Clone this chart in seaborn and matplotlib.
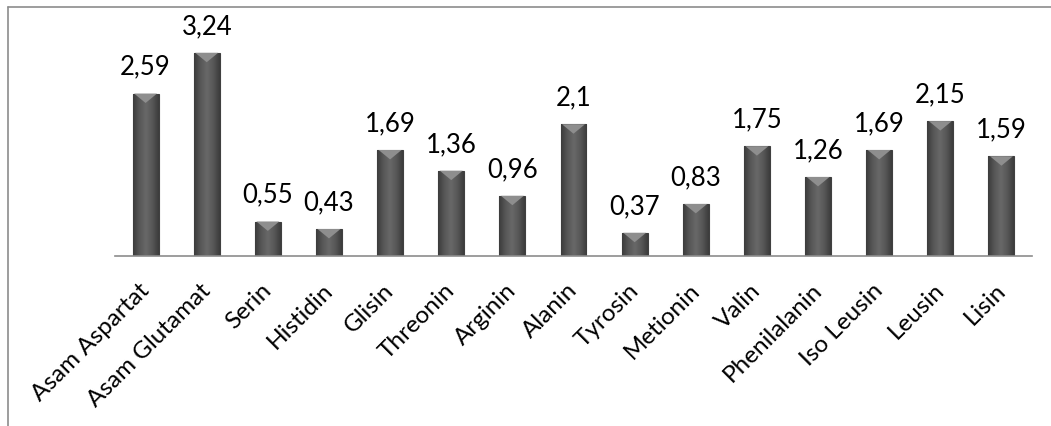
import numpy as np
import pandas as pd
import seaborn as sns
import matplotlib.pyplot as plt
import matplotlib.transforms as mtransforms
from matplotlib.patches import Polygon
from matplotlib.lines import Line2D

# data
asam_amino = ['Asam Aspartat', 'Asam Glutamat', 'Serin', 'Histidin', 'Glisin',
              'Threonin', 'Arginin', 'Alanin', 'Tyrosin', 'Metionin', 'Valin',
              'Phenilalanin', 'Iso Leusin', 'Leusin', 'Lisin']
kadar = [2.59, 3.24, 0.55, 0.43, 1.69, 1.36, 0.96, 2.1, 0.37, 0.83, 1.75,
         1.26, 1.69, 2.15, 1.59]

df = pd.DataFrame({'asam': asam_amino, 'kadar': kadar})

sns.set_theme(style="white")
plt.rcParams['font.family'] = ['Lato', 'DejaVu Sans']

fig = plt.figure(figsize=(10.51, 4.26), dpi=100)
ax = fig.add_axes([115 / 1051, 170 / 426, 917 / 1051, 219.5 / 426])

sns.barplot(data=df, x='asam', y='kadar', color='#5a5a5a', width=0.425,
            edgecolor='#404040', linewidth=0.8, ax=ax)
ax.set_xlim(-0.5, len(asam_amino) - 0.5)
ax.set_ylim(0, 3.5)

# gradient + bevel on every bar
grad = np.linspace(0, 1, 64)
grad = 1 - np.abs(grad - 0.5) * 2
grad = np.tile(grad, (2, 1))
cmap = plt.matplotlib.colors.LinearSegmentedColormap.from_list(
    'g', ['#3c3c3c', '#575757', '#686868'])
for p in ax.patches:
    x0, y0 = p.get_x(), p.get_y()
    w, h = p.get_width(), p.get_height()
    im = ax.imshow(grad, cmap=cmap, vmin=0, vmax=1, aspect='auto',
                   extent=[x0, x0 + w, y0, y0 + h], zorder=p.get_zorder() + 0.1)
    im.set_clip_path(p)
    bev = min(0.15, h * 0.5)
    tri = Polygon([[x0 + w * 0.06, y0 + h], [x0 + w * 0.94, y0 + h],
                   [x0 + w / 2, y0 + h - bev]],
                  closed=True, facecolor='#8e8e8e', edgecolor='none',
                  zorder=p.get_zorder() + 0.2)
    ax.add_patch(tri)

labels = [str(v).replace('.', ',') for v in kadar]
ax.bar_label(ax.containers[0], labels=labels, padding=10, fontsize=18.5, color='black')

ax.set_xlabel('')
ax.set_ylabel('')
ax.set_yticks([])
for s in ['top', 'right', 'left']:
    ax.spines[s].set_visible(False)
ax.spines['bottom'].set_color('#8c8c8c')
ax.spines['bottom'].set_linewidth(1.2)
ax.tick_params(axis='x', length=0, pad=17)
shift = mtransforms.ScaledTranslation(-5 / 72, 0, fig.dpi_scale_trans)
for lab in ax.get_xticklabels():
    lab.set_rotation(45)
    lab.set_ha('right')
    lab.set_rotation_mode('anchor')
    lab.set_fontsize(17.5)
    lab.set_color('black')
    lab.set_transform(lab.get_transform() + shift)

# outer chart frame (left + top visible)
fig.add_artist(Line2D([8 / 1051, 8 / 1051], [0, 1 - 7 / 426], color='#8c8c8c', lw=1.2))
fig.add_artist(Line2D([8 / 1051, 1], [1 - 7 / 426, 1 - 7 / 426], color='#8c8c8c', lw=1.2))

fig.savefig('out.png', dpi=100)
